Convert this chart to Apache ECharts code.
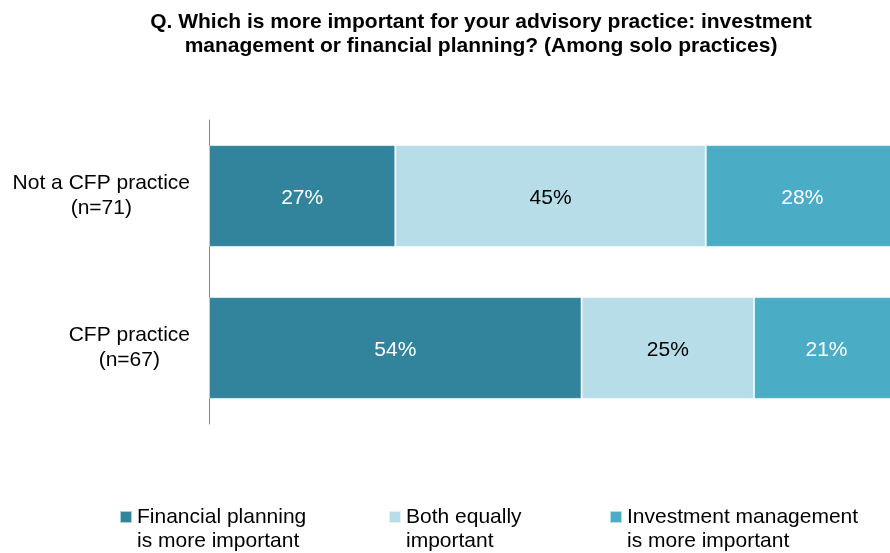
<!DOCTYPE html>
<html>
<head>
<meta charset="utf-8">
<style>
    html, body { margin: 0; padding: 0; background: #fff; }
    #chart { width: 890px; height: 553px; }
</style>
<script src="https://cdn.jsdelivr.net/npm/echarts@6/dist/echarts.min.js"></script>
</head>
<body>
<div id="chart"></div>
<script>
var categories = ['Not a CFP practice\n(n=71)', 'CFP practice\n(n=67)'];
var seriesNames = ['Financial planning\nis more important', 'Both equally\nimportant', 'Investment management\nis more important'];
var planningVals = [27, 54];
var bothVals = [45, 25];
var investVals = [28, 21];
var colors = ['#31849B', '#B7DEE8', '#4BACC6'];
var labelColors = ['#fff', '#000', '#fff'];
var legendLeft = [119, 388, 609];

var font = 'Arial, "Liberation Sans", sans-serif';

function makeSeries(name, vals, i) {
    return {
        name: name,
        type: 'bar',
        stack: 'total',
        data: vals,
        clip: false,
        barCategoryGap: '33%',
        itemStyle: {
            color: colors[i],
            borderColor: 'rgba(255,255,255,0.6)',
            borderWidth: 1
        },
        label: {
            show: true,
            position: 'inside',
            offset: [0, 2],
            formatter: '{c}%',
            color: labelColors[i],
            fontFamily: font,
            fontSize: 21
        }
    };
}

var chart = echarts.init(document.getElementById('chart'));
chart.setOption({
    animation: false,
    title: {
        text: 'Q. Which is more important for your advisory practice: investment\nmanagement or financial planning? (Among solo practices)',
        left: 481,
        textAlign: 'center',
        top: 10,
        padding: 0,
        textStyle: {
            fontFamily: font,
            fontWeight: 'bold',
            fontSize: 21,
            lineHeight: 24,
            color: '#000'
        }
    },
    legend: seriesNames.map(function (n, i) {
        return {
            data: [n],
            left: legendLeft[i],
            top: 481,
            padding: 0,
            itemWidth: 12,
            itemHeight: 12,
            icon: 'rect',
            // leading blank line keeps the icon level with the first text line
            formatter: function (name) { return ' \n' + name; },
            textStyle: {
                fontFamily: font,
                fontSize: 21,
                lineHeight: 24,
                color: '#000'
            }
        };
    }),
    grid: {
        left: 209,
        right: 0,
        top: 120,
        bottom: 129
    },
    xAxis: {
        type: 'value',
        min: 0,
        max: 98.7,
        show: false
    },
    yAxis: {
        type: 'category',
        data: categories,
        inverse: true,
        axisLine: { show: true, lineStyle: { color: '#868686', width: 1 } },
        axisTick: { show: false },
        axisLabel: {
            margin: 19,
            formatter: function (v) {
                return v.split('\n').map(function (s) { return '{a|' + s + '}'; }).join('\n');
            },
            rich: {
                a: {
                    fontFamily: font,
                    fontSize: 21,
                    lineHeight: 25,
                    color: '#000',
                    align: 'center'
                }
            }
        }
    },
    series: [
        makeSeries(seriesNames[0], planningVals, 0),
        makeSeries(seriesNames[1], bothVals, 1),
        makeSeries(seriesNames[2], investVals, 2)
    ]
});
</script>
</body>
</html>
